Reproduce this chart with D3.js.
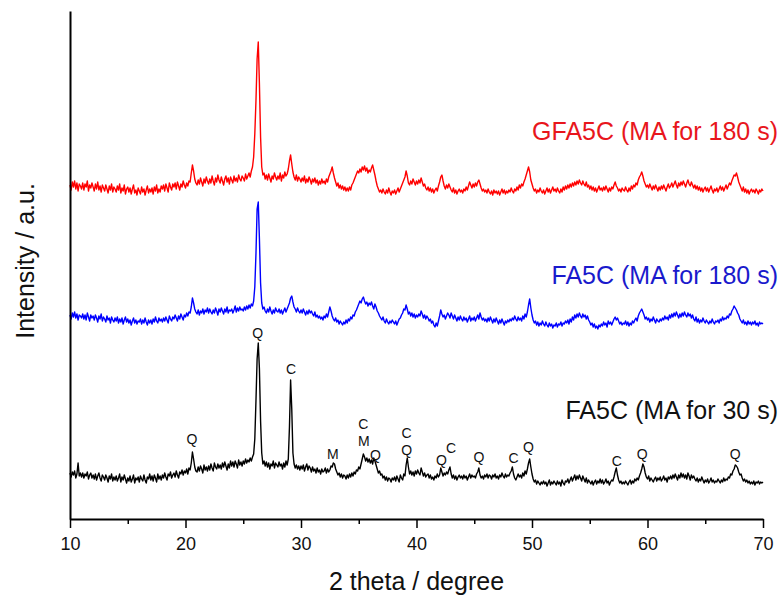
<!DOCTYPE html>
<html>
<head>
<meta charset="utf-8">
<script src="https://cdn.jsdelivr.net/npm/d3@7"></script>
<style>
  html, body { margin: 0; padding: 0; background: #fff; }
  svg { display: block; font-family: "Liberation Sans", Arial, sans-serif; }
</style>
</head>
<body>
<svg id="chart" width="782" height="601"></svg>
<script>
// ---- scan definition ----
const scanStart = 10;      // 2 theta of first sample (degree)
const scanStep = 0.1;      // sampling step (degree)

// ---- intensities (a.u.), one row per degree ----
const fa5c30Values = [
  46,42,47,44,48,41,45,56,43,46,
  42,46,41,45,43,47,40,44,46,41,
  44,40,45,39,43,46,41,38,44,42,
  39,44,41,37,43,40,45,38,42,39,
  43,38,41,45,37,42,39,44,40,36,
  41,38,43,37,40,44,36,41,39,42,
  37,43,40,38,44,39,36,42,40,45,
  39,43,38,44,41,37,45,40,43,39,
  44,41,46,42,39,45,43,47,41,44,
  46,42,48,44,41,47,45,49,44,48,
  46,50,45,51,49,56,67,60,52,48,
  47,52,48,53,50,46,54,49,52,48,
  53,49,55,51,48,56,52,50,55,51,
  54,50,56,52,57,53,49,55,51,58,
  53,57,52,58,55,51,59,54,57,53,
  58,55,60,56,59,57,61,58,62,65,
  80,118,160,176,150,98,66,55,58,53,
  57,52,56,50,55,53,58,51,56,54,
  52,57,53,55,50,56,52,58,54,60,
  92,139,110,66,55,51,54,50,53,49,
  53,50,54,48,52,55,49,53,51,47,
  52,48,50,46,51,47,49,45,50,47,
  48,51,46,50,47,49,53,52,56,55,
  50,47,44,46,42,45,41,44,43,40,
  44,41,45,42,46,43,47,45,49,48,
  52,50,55,60,65,62,58,61,57,60,
  56,59,55,61,58,54,50,46,48,44,
  45,41,43,39,42,38,41,40,37,41,
  39,42,38,43,40,37,44,41,39,45,
  43,54,61,52,45,48,44,47,43,48,
  45,49,46,44,51,47,43,46,42,44,
  45,41,44,40,42,39,43,41,45,42,
  44,51,47,43,46,44,47,45,49,52,
  45,41,44,40,43,39,42,44,41,43,
  40,44,41,43,39,42,45,41,44,42,
  43,41,45,47,51,44,41,43,40,44,
  42,45,41,44,43,40,44,42,45,41,
  43,40,44,42,46,43,41,45,42,44,
  43,46,48,52,45,41,39,42,45,42,
  44,41,46,43,48,45,50,56,60,52,
  45,40,37,39,35,38,36,34,37,35,
  38,35,37,33,36,39,34,37,35,38,
  36,34,38,35,37,33,39,36,34,38,
  37,40,36,39,42,38,41,44,39,43,
  40,44,41,38,43,40,37,41,36,39,
  37,35,38,34,37,39,35,38,36,40,
  36,39,35,37,40,36,38,34,37,39,
  38,42,47,51,44,39,36,38,35,37,
  35,38,36,34,37,39,35,38,36,40,
  38,41,39,43,46,50,55,52,46,42,
  40,43,38,41,39,37,40,42,38,41,
  39,42,38,40,43,39,41,37,42,40,
  43,40,44,41,45,42,39,44,41,46,
  42,45,41,44,40,46,43,39,44,41,
  43,40,38,41,37,40,38,42,39,36,
  39,37,40,36,38,41,37,39,36,38,
  37,40,38,36,39,37,41,38,40,39,
  42,41,45,44,48,50,54,53,51,47,
  44,45,41,38,40,37,39,36,38,35,
  37,35,38,34,37,36,38,35,37,36,
  37
];

const fa5c180Values = [
  44,40,46,42,47,41,45,39,44,43,
  41,45,40,44,39,46,42,38,44,41,
  43,39,44,41,37,43,40,45,38,42,
  40,37,43,39,41,36,42,39,37,41,
  38,42,36,40,37,41,35,39,42,37,
  40,36,39,34,38,41,36,39,35,38,
  37,40,35,39,36,41,37,34,39,36,
  39,35,40,37,42,38,36,41,38,40,
  37,41,38,42,39,36,43,40,38,42,
  40,44,41,38,43,40,45,42,39,44,
  42,46,43,47,46,52,61,56,50,47,
  45,49,44,48,46,50,45,49,47,51,
  46,50,47,45,49,46,51,48,44,50,
  47,51,48,45,50,47,52,46,49,48,
  50,46,49,53,47,51,48,52,49,50,
  48,52,49,53,50,54,51,55,53,58,
  72,105,150,157,120,76,56,50,52,48,
  46,50,47,52,48,45,49,46,51,48,
  47,50,46,49,45,48,51,47,50,53,
  56,61,63,57,52,50,47,51,48,46,
  49,46,50,47,44,48,45,49,46,48,
  45,43,47,42,44,41,43,40,42,39,
  43,41,45,42,47,52,48,43,40,38,
  41,37,39,35,38,36,34,37,35,39,
  36,40,38,42,40,44,43,47,49,52,
  55,58,56,60,62,58,55,57,53,56,
  54,57,53,50,55,52,48,46,43,41,
  39,42,38,36,40,37,35,38,36,39,
  37,35,38,34,37,40,41,44,46,50,
  49,54,50,45,47,43,46,42,45,41,
  44,42,45,43,48,45,41,44,40,43,
  41,38,40,36,38,34,32,36,33,38,
  43,49,45,42,44,40,43,46,44,41,
  46,43,40,44,41,38,42,39,43,40,
  38,42,39,41,37,40,43,38,41,39,
  42,38,41,44,40,46,42,39,41,38,
  40,37,41,38,42,39,36,40,37,41,
  38,35,39,36,40,37,34,38,36,39,
  37,40,38,41,39,43,40,38,42,39,
  41,38,43,40,45,42,47,54,60,51,
  44,39,36,38,34,37,33,36,34,38,
  35,33,37,34,32,36,33,35,31,34,
  33,36,32,35,34,37,33,36,35,38,
  36,39,35,40,37,42,39,44,41,45,
  42,46,43,41,45,42,44,40,43,39,
  37,34,36,32,35,31,33,30,34,32,
  35,33,37,34,36,32,38,35,37,34,
  37,40,42,39,41,38,35,37,34,36,
  35,38,34,37,33,36,34,38,36,39,
  41,38,43,46,48,50,47,44,40,42,
  39,41,37,40,38,42,39,36,40,38,
  37,40,38,41,39,43,40,42,39,44,
  41,45,42,46,43,47,44,41,45,42,
  46,43,47,44,42,46,43,45,41,44,
  40,38,42,37,40,36,39,37,41,38,
  36,39,37,35,38,36,40,37,35,38,
  37,39,36,40,38,42,39,41,40,43,
  41,45,44,48,50,53,51,49,46,44,
  40,38,36,39,35,37,34,38,35,37,
  34,37,35,38,34,36,33,37,35,36,
  35
];

const gfa5c180Values = [
  44,39,47,42,48,40,46,38,45,43,
  40,46,39,45,42,48,38,44,41,46,
  42,38,45,40,47,39,43,37,44,41,
  38,44,40,36,43,39,45,37,42,40,
  37,43,39,45,36,41,38,44,35,40,
  42,37,41,35,40,44,36,39,34,41,
  38,35,42,37,40,34,39,43,36,40,
  37,41,35,42,38,44,36,40,37,43,
  40,44,38,45,41,37,46,42,39,45,
  42,46,40,47,43,39,45,42,48,44,
  41,46,43,48,47,56,64,58,50,46,
  44,49,45,51,47,43,50,46,52,48,
  45,50,46,53,48,44,51,47,54,49,
  46,52,48,44,50,53,47,51,45,52,
  49,46,53,48,51,47,54,50,48,53,
  51,48,55,50,53,56,52,58,62,72,
  95,128,170,187,145,92,62,54,56,50,
  54,49,55,51,47,53,50,56,52,49,
  53,50,56,48,54,51,57,53,55,60,
  68,74,65,57,52,49,54,48,52,50,
  47,51,48,53,46,50,47,52,49,45,
  50,47,51,46,49,44,48,45,50,46,
  48,45,50,47,52,55,58,62,56,51,
  47,43,46,41,44,40,43,39,42,38,
  41,38,42,39,44,46,49,52,55,58,
  56,60,57,62,59,63,58,61,56,59,
  57,61,64,59,54,48,43,40,37,39,
  36,40,37,35,39,36,41,37,34,38,
  36,39,35,38,41,37,40,43,46,49,
  52,58,53,46,44,48,45,50,47,44,
  48,45,49,46,51,47,43,45,41,39,
  42,38,41,37,40,36,39,41,38,43,
  47,52,54,48,43,40,44,41,45,42,
  39,37,41,36,39,35,38,40,37,39,
  36,40,38,42,39,43,47,44,41,45,
  42,46,43,47,49,45,41,38,40,37,
  39,36,40,37,35,38,34,39,36,38,
  35,38,34,37,40,36,39,35,38,36,
  39,37,41,38,36,40,38,42,39,44,
  41,45,43,47,50,54,58,62,57,49,
  45,41,38,40,36,39,37,41,38,36,
  39,35,38,41,37,40,36,39,42,38,
  40,37,41,38,36,40,37,42,39,43,
  40,44,41,45,42,46,43,47,44,48,
  45,49,46,44,48,45,43,47,42,44,
  40,43,39,42,38,41,37,40,43,39,
  41,38,42,39,43,40,37,41,38,42,
  40,44,47,43,41,38,40,37,41,39,
  38,42,39,37,41,38,43,40,44,42,
  46,44,49,52,54,57,53,48,45,42,
  44,41,45,42,39,43,40,44,41,38,
  42,39,43,40,44,41,38,42,45,41,
  43,46,42,45,48,44,41,46,43,47,
  44,48,45,42,46,49,45,43,47,44,
  41,44,40,43,39,42,38,41,37,40,
  42,38,41,37,40,43,39,36,40,38,
  41,37,40,43,39,42,38,41,44,40,
  43,46,44,48,51,54,53,56,52,47,
  44,41,38,42,37,40,36,39,35,38,
  40,37,39,36,40,38,35,39,37,40,
  38
];

// ---- series meta ----
const seriesNames = ["FA5C (MA for 30 s)", "FA5C (MA for 180 s)", "GFA5C (MA for 180 s)"];
const seriesColors = ["#000000", "#0000ff", "#ff0000"];
const labelColors = ["#111111", "#1a1acc", "#e8161c"];
const seriesOffsets = [0, 160, 290];      // vertical stacking offsets (a.u.)
const labelLevels = [100, 75, 89];        // label baseline above each trace's zero (a.u.)

// ---- phase annotations on the 30 s pattern ----
const peakLetters = ["Q","Q","C","M","C","M","Q","C","Q","Q","C","Q","C","Q","C","Q","Q"];
const peakAngles  = [20.55,26.25,29.15,32.75,35.4,35.45,36.45,39.15,39.15,42.15,43.0,45.4,48.4,49.7,57.35,59.55,67.6];
const peakLevels  = [80,186,150,65,95,78,64,86,69,59,71,62,61,72,58,65,65];

// ---- axis ----
const xMajorTicks = [10, 20, 30, 40, 50, 60, 70];
const xMinorTicks = [15, 25, 35, 45, 55, 65];
const xTitle = "2 theta / degree";
const yTitle = "Intensity / a.u.";

// ================= drawing =================
const svg = d3.select("#chart");
const x = d3.scaleLinear().domain([10, 70]).range([70, 763]);
const y = d3.scaleLinear().domain([0, 508]).range([519, 11]);

const allSeries = [fa5c30Values, fa5c180Values, gfa5c180Values];

const line = d3.line()
  .x(d => x(d[0]))
  .y(d => y(d[1]));

allSeries.forEach((vals, k) => {
  const pts = vals.map((v, i) => [scanStart + i * scanStep, v + seriesOffsets[k]]);
  svg.append("path")
    .datum(pts)
    .attr("fill", "none")
    .attr("stroke", seriesColors[k])
    .attr("stroke-width", 1.4)
    .attr("stroke-linejoin", "round")
    .attr("d", line);

  svg.append("text")
    .attr("x", x(70) + 15)
    .attr("y", y(seriesOffsets[k] + labelLevels[k]))
    .attr("text-anchor", "end")
    .attr("font-size", 25)
    .attr("fill", labelColors[k])
    .text(seriesNames[k]);
});

// annotations
svg.append("g").selectAll("text")
  .data(peakLetters.map((t, i) => ({ t, a: peakAngles[i], l: peakLevels[i] })))
  .join("text")
  .attr("x", d => x(d.a))
  .attr("y", d => y(d.l))
  .attr("text-anchor", "middle")
  .attr("dominant-baseline", "central")
  .attr("font-size", 14)
  .attr("fill", "#111")
  .text(d => d.t);

// bottom axis
const gx = svg.append("g").attr("transform", `translate(0,${y(0)})`);
gx.call(d3.axisBottom(x).tickValues(xMajorTicks).tickSize(9).tickSizeOuter(0).tickPadding(9).tickFormat(d3.format("d")));
gx.select(".domain").attr("stroke-width", 2);
gx.selectAll(".tick line").attr("stroke-width", 1.5);
gx.selectAll(".tick text").attr("font-size", 18).attr("font-family", "'Liberation Sans Narrow', 'Liberation Sans', Arial, sans-serif").attr("fill", "#111");
const gxm = svg.append("g").attr("transform", `translate(0,${y(0)})`);
gxm.call(d3.axisBottom(x).tickValues(xMinorTicks).tickSize(5).tickSizeOuter(0).tickFormat(""));
gxm.select(".domain").remove();
gxm.selectAll(".tick line").attr("stroke-width", 1.5);

// left axis (line only)
const gy = svg.append("g").attr("transform", `translate(${x(10)},0)`);
gy.call(d3.axisLeft(y).tickValues([]).tickSizeOuter(0));
gy.select(".domain").attr("stroke-width", 2);

// titles
svg.append("text")
  .attr("x", (x(10) + x(70)) / 2)
  .attr("y", 590)
  .attr("text-anchor", "middle")
  .attr("font-size", 25)
  .attr("fill", "#111")
  .text(xTitle);

svg.append("text")
  .attr("transform", `translate(34,${(y(0) + y(508)) / 2 - 4}) rotate(-90)`)
  .attr("text-anchor", "middle")
  .attr("font-size", 25)
  .attr("fill", "#111")
  .text(yTitle);
</script>
</body>
</html>
